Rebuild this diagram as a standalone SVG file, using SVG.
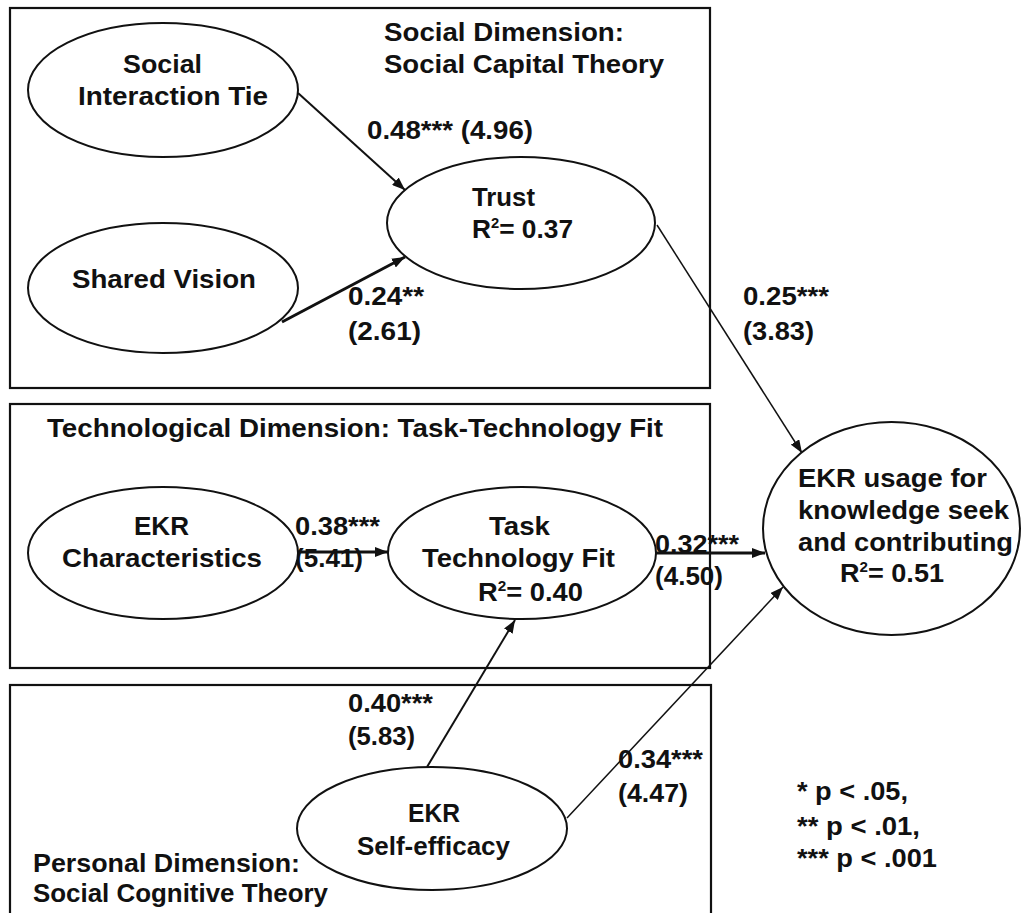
<svg xmlns="http://www.w3.org/2000/svg" width="1022" height="913" viewBox="0 0 1022 913">
<style>
text{font-family:"Liberation Sans",Arial,sans-serif;font-weight:bold;font-size:25px;fill:#111}
.box{fill:none;stroke:#111;stroke-width:2.2}
.node{fill:#fff;stroke:#111;stroke-width:2}
.thick{stroke:#111;stroke-width:3;fill:none}
.mid{stroke:#111;stroke-width:2;fill:none}
.thin{stroke:#111;stroke-width:1.5;fill:none}
.sup{font-size:14px}
</style>
<defs>
<marker id="ah" markerUnits="userSpaceOnUse" markerWidth="14" markerHeight="10" refX="13" refY="5" orient="auto">
<path d="M0,0 L13,5 L0,10 z" fill="#111"/>
</marker>
</defs>
<rect width="1022" height="913" fill="#fff"/>
<g id="boxes">
<rect class="box" x="10" y="8" width="700" height="380"/>
<rect class="box" x="10" y="404" width="700" height="264"/>
<rect class="box" x="10" y="685" width="701" height="250"/>
<text x="384" y="41" textLength="240" lengthAdjust="spacingAndGlyphs">Social Dimension:</text>
<text x="384" y="73" textLength="280" lengthAdjust="spacingAndGlyphs">Social Capital Theory</text>
<text x="47" y="437" textLength="616" lengthAdjust="spacingAndGlyphs">Technological Dimension: Task-Technology Fit</text>
<text x="33" y="872" textLength="267" lengthAdjust="spacingAndGlyphs">Personal Dimension:</text>
<text x="33" y="902" textLength="295" lengthAdjust="spacingAndGlyphs">Social Cognitive Theory</text>
</g>
<g id="connectors">
<line class="mid" x1="298" y1="93" x2="405" y2="190" marker-end="url(#ah)"/>
<line class="thick" x1="282" y1="322" x2="405" y2="257" marker-end="url(#ah)"/>
<line class="thin" x1="657" y1="225" x2="802" y2="453" marker-end="url(#ah)"/>
<line class="thick" x1="298" y1="552" x2="388" y2="552" marker-end="url(#ah)"/>
<line class="thick" x1="656" y1="553" x2="765" y2="553" marker-end="url(#ah)"/>
<line class="mid" x1="427" y1="767" x2="515" y2="620" marker-end="url(#ah)"/>
<line class="thin" x1="567" y1="818" x2="783" y2="587" marker-end="url(#ah)"/>
<text x="367" y="139" textLength="166" lengthAdjust="spacingAndGlyphs">0.48*** (4.96)</text>
<text x="348" y="305" textLength="76" lengthAdjust="spacingAndGlyphs">0.24**</text>
<text x="348" y="340" textLength="73" lengthAdjust="spacingAndGlyphs">(2.61)</text>
<text x="743" y="305" textLength="86" lengthAdjust="spacingAndGlyphs">0.25***</text>
<text x="743" y="340" textLength="71" lengthAdjust="spacingAndGlyphs">(3.83)</text>
<text x="295" y="535" textLength="85" lengthAdjust="spacingAndGlyphs">0.38***</text>
<text x="295" y="567" textLength="68" lengthAdjust="spacingAndGlyphs">(5.41)</text>
<text x="655" y="553" textLength="84" lengthAdjust="spacingAndGlyphs">0.32***</text>
<text x="655" y="585" textLength="68" lengthAdjust="spacingAndGlyphs">(4.50)</text>
<text x="348" y="712" textLength="85" lengthAdjust="spacingAndGlyphs">0.40***</text>
<text x="348" y="745" textLength="67" lengthAdjust="spacingAndGlyphs">(5.83)</text>
<text x="618" y="768" textLength="85" lengthAdjust="spacingAndGlyphs">0.34***</text>
<text x="618" y="802" textLength="70" lengthAdjust="spacingAndGlyphs">(4.47)</text>
</g>
<g id="social-interaction-tie">
<ellipse class="node" cx="163" cy="90" rx="135" ry="67"/>
<text x="123" y="73" textLength="79" lengthAdjust="spacingAndGlyphs">Social</text>
<text x="78" y="105" textLength="190" lengthAdjust="spacingAndGlyphs">Interaction Tie</text>
</g>
<g id="shared-vision">
<ellipse class="node" cx="163" cy="288" rx="135" ry="65"/>
<text x="72" y="288" textLength="184" lengthAdjust="spacingAndGlyphs">Shared Vision</text>
</g>
<g id="trust">
<ellipse class="node" cx="521" cy="223" rx="134" ry="66"/>
<text x="472" y="206" textLength="63" lengthAdjust="spacingAndGlyphs">Trust</text>
<text x="472" y="238" textLength="101" lengthAdjust="spacingAndGlyphs">R<tspan class="sup" dy="-10">2</tspan><tspan dy="10">= 0.37</tspan></text>
</g>
<g id="ekr-characteristics">
<ellipse class="node" cx="163" cy="553" rx="135" ry="66"/>
<text x="134" y="535" textLength="55" lengthAdjust="spacingAndGlyphs">EKR</text>
<text x="62" y="567" textLength="200" lengthAdjust="spacingAndGlyphs">Characteristics</text>
</g>
<g id="task-technology-fit">
<ellipse class="node" cx="522" cy="553" rx="134" ry="66"/>
<text x="489" y="535" textLength="61" lengthAdjust="spacingAndGlyphs">Task</text>
<text x="422" y="567" textLength="193" lengthAdjust="spacingAndGlyphs">Technology Fit</text>
<text x="478" y="601" textLength="105" lengthAdjust="spacingAndGlyphs">R<tspan class="sup" dy="-10">2</tspan><tspan dy="10">= 0.40</tspan></text>
</g>
<g id="ekr-usage">
<ellipse class="node" cx="891.5" cy="528.5" rx="128.5" ry="106.5"/>
<text x="798" y="487" textLength="189" lengthAdjust="spacingAndGlyphs">EKR usage for</text>
<text x="798" y="519" textLength="211" lengthAdjust="spacingAndGlyphs">knowledge seek</text>
<text x="798" y="551" textLength="215" lengthAdjust="spacingAndGlyphs">and contributing</text>
<text x="840" y="582" textLength="104" lengthAdjust="spacingAndGlyphs">R<tspan class="sup" dy="-10">2</tspan><tspan dy="10">= 0.51</tspan></text>
</g>
<g id="ekr-self-efficacy">
<ellipse class="node" cx="432" cy="828.5" rx="135" ry="61.5"/>
<text x="408" y="822" textLength="52" lengthAdjust="spacingAndGlyphs">EKR</text>
<text x="357" y="855" textLength="153" lengthAdjust="spacingAndGlyphs">Self-efficacy</text>
</g>
<g id="legend">
<text x="797" y="800" textLength="111" lengthAdjust="spacingAndGlyphs">* p &lt; .05,</text>
<text x="797" y="835" textLength="123" lengthAdjust="spacingAndGlyphs">** p &lt; .01,</text>
<text x="797" y="867" textLength="140" lengthAdjust="spacingAndGlyphs">*** p &lt; .001</text>
</g>
</svg>
